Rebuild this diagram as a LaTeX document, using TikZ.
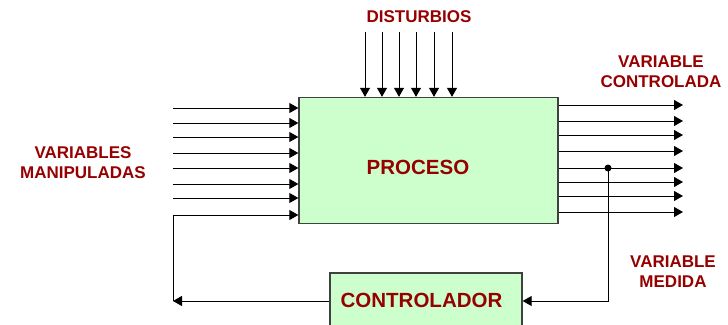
\documentclass[tikz,border=0pt]{standalone}
\usepackage{fontspec}
\setmainfont{Liberation Sans}
\usetikzlibrary{arrows.meta}
\definecolor{rojo}{RGB}{150,0,0}
\definecolor{verde}{RGB}{204,255,204}
\begin{document}
\begin{tikzpicture}[x=1pt,y=-1pt,
    flecha/.style={line width=0.9pt,-{Triangle[length=9pt,width=10pt]}},
    linea/.style={line width=0.9pt},
    bloque/.style={draw=black!75,line width=1.3pt,fill=verde,inner sep=0pt},
    titulo/.style={text=rojo,inner sep=0pt,font=\fontsize{20.5}{24}\selectfont\bfseries},
    etiqueta/.style={text=rojo,align=center,inner sep=0pt,
      font=\fontsize{17}{20}\selectfont\bfseries}]
    \useasboundingbox (0,0) rectangle (728,324);
    \clip (0,0) rectangle (728,324);
    % bloques
    \node[bloque,minimum width=259pt,minimum height=126pt] (proc) at (428.5,160.5) {};
    \node[bloque,minimum width=192pt,minimum height=56pt] (ctrl) at (426,301) {};
    \node[titulo] (proctxt) at (418,167.5) {PROCESO};
    \node[titulo] (ctrltxt) at (421.5,300) {CONTROLADOR};
    % variables manipuladas
    \foreach \y [count=\i] in {108,123,137,153,168,184,198,215}
      \coordinate (in\i) at (173,\y);
    \foreach \i in {1,...,8}
      \draw[flecha] (in\i) -- (in\i -| proc.west);
    % salidas
    \foreach \y [count=\i] in {105,121,135,151,168,182,196,212}
      \coordinate (out\i) at (683,\y);
    \foreach \i in {1,...,8}
      \draw[flecha] (out\i -| proc.east) -- (out\i);
    % disturbios
    \foreach \x [count=\i] in {365,382,399,416,434,452}
      \coordinate (d\i) at (\x,32);
    \foreach \i in {1,...,6}
      \draw[flecha] (d\i) -- (d\i |- proc.north);
    % lazo de realimentacion
    \coordinate (tap) at (608,168);
    \coordinate (fb) at (173,301);
    \fill (tap) circle (3.5pt);
    \draw[flecha] (tap) |- (ctrl.east);
    \draw[flecha] (ctrl.west) -- (fb);
    \draw[linea] (fb) -- (in8);
    % textos
    \node[etiqueta] (dist) at (419,17) {DISTURBIOS};
    \node[etiqueta] (vc) at (661,72) {VARIABLE\\CONTROLADA};
    \node[etiqueta] (vm) at (83,163) {VARIABLES\\MANIPULADAS};
    \node[etiqueta] (med) at (673,272) {VARIABLE\\MEDIDA};
\end{tikzpicture}
\end{document}
